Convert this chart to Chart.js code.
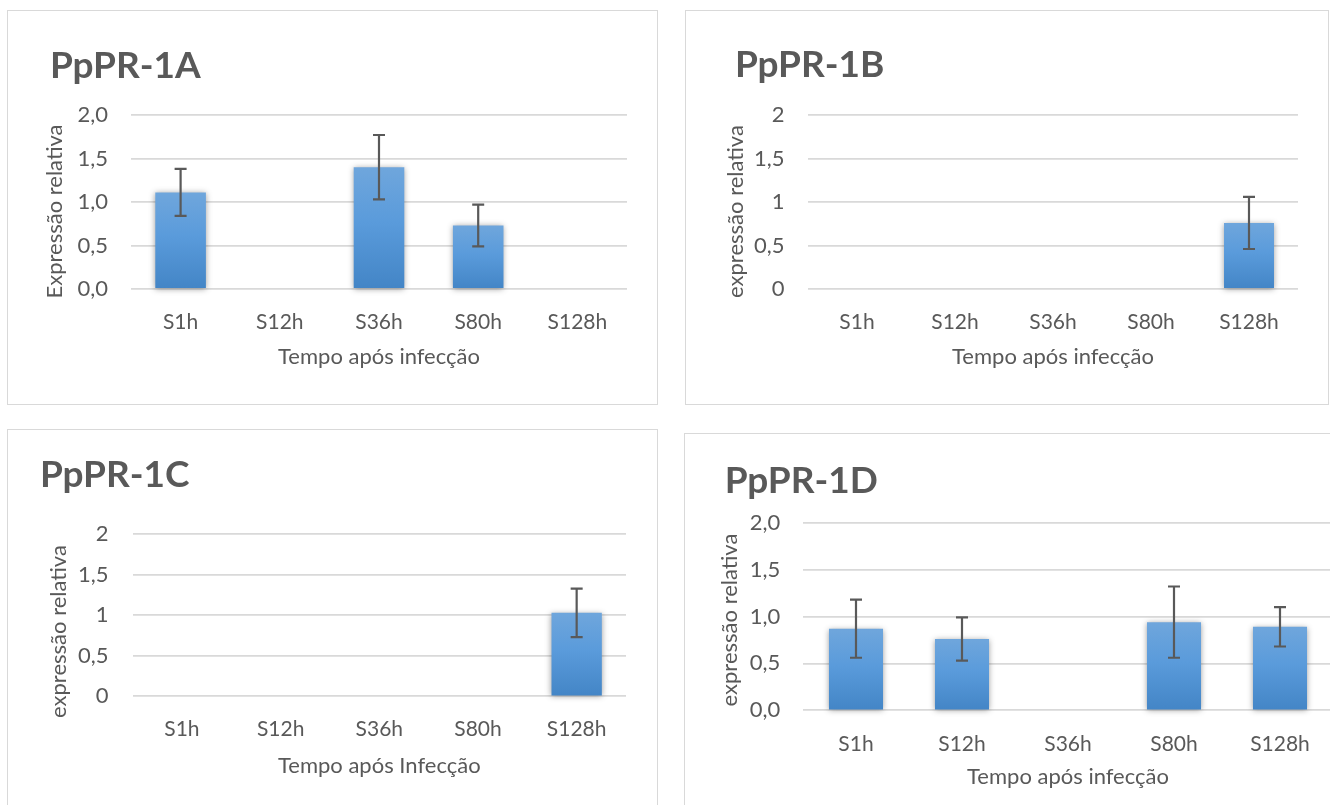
<!DOCTYPE html>
<html>
<head>
<meta charset="utf-8">
<script src="https://cdn.jsdelivr.net/npm/chart.js@4.4.1/dist/chart.umd.min.js"></script>
<style>
  html, body { margin: 0; padding: 0; background: #fff; width: 1330px; height: 805px; overflow: hidden; }
  .frame { position: absolute; border: 1px solid #d9d9d9; box-sizing: border-box; }
  .panel { position: absolute; }
  canvas { display: block; }
</style>
</head>
<body>
<div class="frame" style="left:7px;top:10px;width:651px;height:395px"></div>
<div class="frame" style="left:685px;top:10px;width:644px;height:395px"></div>
<div class="frame" style="left:7px;top:429px;width:651px;height:420px"></div>
<div class="frame" style="left:684px;top:433px;width:700px;height:420px"></div>

<div class="panel" style="left:7px;top:10px"><canvas id="chartA" width="650" height="394"></canvas></div>
<div class="panel" style="left:685px;top:10px"><canvas id="chartB" width="643" height="394"></canvas></div>
<div class="panel" style="left:7px;top:429px"><canvas id="chartC" width="650" height="394"></canvas></div>
<div class="panel" style="left:684px;top:433px"><canvas id="chartD" width="680" height="394"></canvas></div>

<script>
// Sampling times after infection
const categories = ['S1h', 'S12h', 'S36h', 'S80h', 'S128h'];

// Y tick labels (decimal comma)
const ticksDecimal = ['0,0', '0,5', '1,0', '1,5', '2,0'];
const ticksPlain = ['0', '0,5', '1', '1,5', '2'];

// Relative expression (mean) and error per gene
const meanA = [1.11, null, 1.40, 0.73, null];
const errA  = [0.27, null, 0.37, 0.24, null];

const meanB = [null, null, null, null, 0.76];
const errB  = [null, null, null, null, 0.30];

const meanC = [null, null, null, null, 1.03];
const errC  = [null, null, null, null, 0.30];

const meanD = [0.87, 0.76, null, 0.94, 0.89];
const errD  = [0.31, 0.23, null, 0.38, 0.21];

const FONT = 'Lato, "Open Sans", sans-serif';
const INK = '#595959';

// Soft drop shadow behind the bars
const barShadow = {
  id: 'barShadow',
  beforeDatasetsDraw(chart) {
    const ctx = chart.ctx;
    ctx.save();
    ctx.shadowColor = 'rgba(0,0,0,0.38)';
    ctx.shadowBlur = 6;
    ctx.shadowOffsetX = 0;
    ctx.shadowOffsetY = 1;
  },
  afterDatasetsDraw(chart) {
    chart.ctx.restore();
  }
};

// Error bars (mean ± error) drawn on top of each bar
const errorBars = {
  id: 'errorBars',
  afterDatasetsDraw(chart) {
    const ctx = chart.ctx;
    const y = chart.scales.y;
    chart.data.datasets.forEach((ds, di) => {
      const meta = chart.getDatasetMeta(di);
      ds.errors.forEach((e, i) => {
        const v = ds.data[i];
        if (v == null || e == null) return;
        const x = meta.data[i].x;
        const yTop = y.getPixelForValue(v + e);
        const yBot = y.getPixelForValue(v - e);
        const cap = 6;
        ctx.save();
        ctx.strokeStyle = INK;
        ctx.lineWidth = 2.2;
        ctx.beginPath();
        ctx.moveTo(x, yTop); ctx.lineTo(x, yBot);
        ctx.moveTo(x - cap, yTop); ctx.lineTo(x + cap, yTop);
        ctx.moveTo(x - cap, yBot); ctx.lineTo(x + cap, yBot);
        ctx.stroke();
        ctx.restore();
      });
    });
  }
};

// Vertical value-axis title, placed beside the tick labels
const sideTitle = {
  id: 'sideTitle',
  afterDraw(chart, args, opts) {
    if (!opts || !opts.text) return;
    const ctx = chart.ctx;
    ctx.save();
    ctx.translate(opts.x, opts.y);
    ctx.rotate(-Math.PI / 2);
    ctx.font = '22px ' + FONT;
    ctx.fillStyle = INK;
    ctx.textAlign = 'center';
    ctx.textBaseline = 'middle';
    ctx.fillText(opts.text, 0, 0);
    ctx.restore();
  }
};

function barFill(context) {
  const chart = context.chart;
  const v = context.raw;
  const y = chart.scales && chart.scales.y;
  if (!chart.chartArea || v == null || !y) return '#5b9bd5';
  const top = y.getPixelForValue(v);
  const bottom = y.getPixelForValue(0);
  const g = chart.ctx.createLinearGradient(0, top, 0, bottom);
  g.addColorStop(0, '#6fa6dc');
  g.addColorStop(0.45, '#5a9bdb');
  g.addColorStop(1, '#4385c6');
  return g;
}

function makeChart(id, title, means, errs, tickLabels, yTitle, xTitle, g) {
  return new Chart(document.getElementById(id), {
    type: 'bar',
    data: {
      labels: categories,
      datasets: [{
        data: means,
        errors: errs,
        backgroundColor: barFill,
        borderWidth: 0,
        categoryPercentage: 1,
        barPercentage: 0.51,
        clip: false
      }]
    },
    options: {
      responsive: false,
      animation: false,
      events: [],
      layout: { padding: { left: g.padL, right: g.padR, top: g.padTop, bottom: g.padBottom } },
      plugins: {
        legend: { display: false },
        tooltip: { enabled: false },
        title: {
          display: true,
          text: title,
          align: 'start',
          color: INK,
          font: { family: FONT, size: 37, weight: 'bold' },
          padding: { top: g.titlePT, bottom: g.titlePB }
        },
        sideTitle: { text: yTitle, x: g.yTitleX, y: g.yTitleY }
      },
      scales: {
        x: {
          grid: { display: false, drawTicks: false },
          border: { display: false },
          ticks: { color: INK, font: { family: FONT, size: 21 }, padding: g.xTickPad },
          title: {
            display: true, text: xTitle, color: INK,
            font: { family: FONT, size: 22 },
            padding: { top: 0, bottom: g.xTitlePad }
          },
          afterFit(scale) { scale.height = g.xHeight; }
        },
        y: {
          min: 0, max: 2,
          grid: { color: '#d9d9d9', lineWidth: 1.8, drawTicks: false },
          border: { display: false },
          ticks: {
            stepSize: 0.5,
            color: INK,
            font: { family: FONT, size: 22 },
            padding: g.yTickPad,
            callback: (value, index) => tickLabels[index]
          },
          title: { display: false },
          afterFit(scale) { scale.width = g.yWidth; }
        }
      }
    },
    plugins: [barShadow, errorBars, sideTitle]
  });
}

makeChart('chartA', 'PpPR-1A', meanA, errA, ticksDecimal, 'Expressão relativa', 'Tempo após infecção',
  { padL: 43, padR: 30, padTop: 10, padBottom: 20, titlePT: 23.8, titlePB: 26.8,
    yWidth: 81, yTickPad: 23, yTitleX: 48, yTitleY: 201.5,
    xHeight: 95, xTickPad: 20.2, xTitlePad: 13.8 });

makeChart('chartB', 'PpPR-1B', meanB, errB, ticksPlain, 'expressão relativa', 'Tempo após infecção',
  { padL: 50, padR: 30, padTop: 10, padBottom: 20, titlePT: 22.6, titlePB: 28,
    yWidth: 73, yTickPad: 23.5, yTitleX: 51, yTitleY: 201.5,
    xHeight: 95, xTickPad: 20.2, xTitlePad: 13.8 });

makeChart('chartC', 'PpPR-1C', meanC, errC, ticksPlain, 'expressão relativa', 'Tempo após Infecção',
  { padL: 33, padR: 31, padTop: 10, padBottom: 20, titlePT: 13.6, titlePB: 37.3,
    yWidth: 92.6, yTickPad: 24, yTitleX: 52, yTitleY: 202.5,
    xHeight: 106.7, xTickPad: 20.1, xTitlePad: 23.8 });

makeChart('chartD', 'PpPR-1D', meanD, errD, ticksDecimal, 'expressão relativa', 'Tempo após infecção',
  { padL: 40.7, padR: 31, padTop: 10, padBottom: 20, titlePT: 16.1, titlePB: 19.2,
    yWidth: 78.3, yTickPad: 22.7, yTitleX: 46, yTitleY: 187,
    xHeight: 96.7, xTickPad: 21.1, xTitlePad: 16.8 });
</script>
</body>
</html>
